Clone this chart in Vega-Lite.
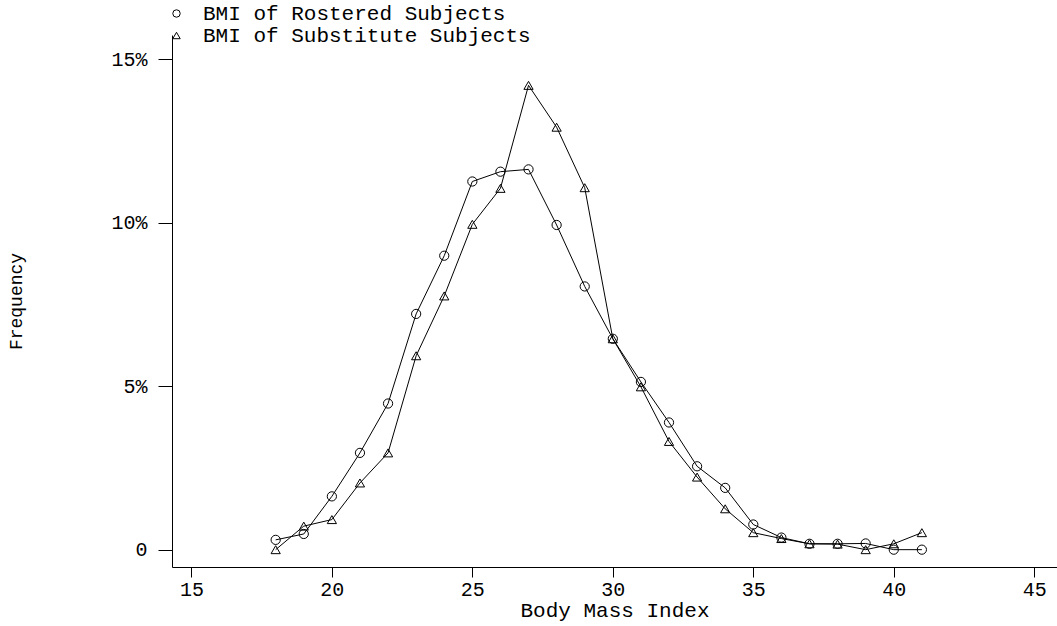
{
  "$schema": "https://vega.github.io/schema/vega-lite/v6.json",
  "width": 885,
  "height": 532,
  "autosize": {"type": "none"},
  "padding": {"left": 172, "top": 35, "right": 0, "bottom": 59},
  "background": "white",
  "config": {"view": {"stroke": null}, "font": "Liberation Mono"},
  "data": {"values": [
    {"bmi": 18, "freq": 0.30, "series": "BMI of Rostered Subjects"},
    {"bmi": 19, "freq": 0.48, "series": "BMI of Rostered Subjects"},
    {"bmi": 20, "freq": 1.63, "series": "BMI of Rostered Subjects"},
    {"bmi": 21, "freq": 2.96, "series": "BMI of Rostered Subjects"},
    {"bmi": 22, "freq": 4.47, "series": "BMI of Rostered Subjects"},
    {"bmi": 23, "freq": 7.21, "series": "BMI of Rostered Subjects"},
    {"bmi": 24, "freq": 8.99, "series": "BMI of Rostered Subjects"},
    {"bmi": 25, "freq": 11.26, "series": "BMI of Rostered Subjects"},
    {"bmi": 26, "freq": 11.56, "series": "BMI of Rostered Subjects"},
    {"bmi": 27, "freq": 11.63, "series": "BMI of Rostered Subjects"},
    {"bmi": 28, "freq": 9.93, "series": "BMI of Rostered Subjects"},
    {"bmi": 29, "freq": 8.05, "series": "BMI of Rostered Subjects"},
    {"bmi": 30, "freq": 6.45, "series": "BMI of Rostered Subjects"},
    {"bmi": 31, "freq": 5.13, "series": "BMI of Rostered Subjects"},
    {"bmi": 32, "freq": 3.89, "series": "BMI of Rostered Subjects"},
    {"bmi": 33, "freq": 2.55, "series": "BMI of Rostered Subjects"},
    {"bmi": 34, "freq": 1.89, "series": "BMI of Rostered Subjects"},
    {"bmi": 35, "freq": 0.77, "series": "BMI of Rostered Subjects"},
    {"bmi": 36, "freq": 0.37, "series": "BMI of Rostered Subjects"},
    {"bmi": 37, "freq": 0.18, "series": "BMI of Rostered Subjects"},
    {"bmi": 38, "freq": 0.18, "series": "BMI of Rostered Subjects"},
    {"bmi": 39, "freq": 0.19, "series": "BMI of Rostered Subjects"},
    {"bmi": 40, "freq": 0.0, "series": "BMI of Rostered Subjects"},
    {"bmi": 41, "freq": 0.0, "series": "BMI of Rostered Subjects"},
    {"bmi": 18, "freq": 0.0, "series": "BMI of Substitute Subjects"},
    {"bmi": 19, "freq": 0.72, "series": "BMI of Substitute Subjects"},
    {"bmi": 20, "freq": 0.92, "series": "BMI of Substitute Subjects"},
    {"bmi": 21, "freq": 2.04, "series": "BMI of Substitute Subjects"},
    {"bmi": 22, "freq": 2.96, "series": "BMI of Substitute Subjects"},
    {"bmi": 23, "freq": 5.93, "series": "BMI of Substitute Subjects"},
    {"bmi": 24, "freq": 7.76, "series": "BMI of Substitute Subjects"},
    {"bmi": 25, "freq": 9.95, "series": "BMI of Substitute Subjects"},
    {"bmi": 26, "freq": 11.05, "series": "BMI of Substitute Subjects"},
    {"bmi": 27, "freq": 14.2, "series": "BMI of Substitute Subjects"},
    {"bmi": 28, "freq": 12.92, "series": "BMI of Substitute Subjects"},
    {"bmi": 29, "freq": 11.07, "series": "BMI of Substitute Subjects"},
    {"bmi": 30, "freq": 6.45, "series": "BMI of Substitute Subjects"},
    {"bmi": 31, "freq": 4.98, "series": "BMI of Substitute Subjects"},
    {"bmi": 32, "freq": 3.31, "series": "BMI of Substitute Subjects"},
    {"bmi": 33, "freq": 2.22, "series": "BMI of Substitute Subjects"},
    {"bmi": 34, "freq": 1.25, "series": "BMI of Substitute Subjects"},
    {"bmi": 35, "freq": 0.52, "series": "BMI of Substitute Subjects"},
    {"bmi": 36, "freq": 0.34, "series": "BMI of Substitute Subjects"},
    {"bmi": 37, "freq": 0.18, "series": "BMI of Substitute Subjects"},
    {"bmi": 38, "freq": 0.17, "series": "BMI of Substitute Subjects"},
    {"bmi": 39, "freq": 0.0, "series": "BMI of Substitute Subjects"},
    {"bmi": 40, "freq": 0.18, "series": "BMI of Substitute Subjects"},
    {"bmi": 41, "freq": 0.52, "series": "BMI of Substitute Subjects"}
  ]},
  "encoding": {
    "x": {
      "field": "bmi", "type": "quantitative",
      "scale": {"domain": [14.31, 45.81], "nice": false, "zero": false},
      "axis": {
        "values": [15, 20, 25, 30, 35, 40, 45],
        "title": "Body Mass Index",
        "grid": false,
        "domainColor": "black", "domainWidth": 1,
        "tickColor": "black", "tickWidth": 1, "tickSize": 10,
        "labelPadding": 2, "labelFontSize": 20, "labelColor": "black", "labelFont": "Liberation Mono",
        "labelFlush": false, "labelOverlap": false,
        "titleFontSize": 21, "titleFontWeight": "normal", "titleColor": "black", "titleFont": "Liberation Mono",
        "titlePadding": 0
      }
    },
    "y": {
      "field": "freq", "type": "quantitative",
      "scale": {"domain": [-0.53, 15.74], "nice": false, "zero": false},
      "axis": {
        "values": [0, 5, 10, 15],
        "labelExpr": "datum.value == 0 ? '0' : datum.value + '%'",
        "title": "Frequency",
        "grid": false,
        "domainColor": "black", "domainWidth": 1,
        "tickColor": "black", "tickWidth": 1, "tickSize": 14,
        "labelPadding": 11, "labelFontSize": 20, "labelColor": "black", "labelFont": "Liberation Mono",
        "labelFlush": false, "labelOverlap": false,
        "titleFontSize": 18, "titleFontWeight": "normal", "titleColor": "black", "titleFont": "Liberation Mono",
        "titleX": -156, "titleY": 266, "titleAngle": -90, "titleAlign": "center", "titleBaseline": "middle"
      }
    }
  },
  "layer": [
    {
      "mark": {"type": "line", "color": "black", "strokeWidth": 1},
      "encoding": {"detail": {"field": "series"}}
    },
    {
      "mark": {"type": "point", "filled": false, "color": "black", "strokeWidth": 1, "opacity": 1, "size": 85},
      "encoding": {
        "shape": {
          "field": "series", "type": "nominal",
          "scale": {"domain": ["BMI of Rostered Subjects", "BMI of Substitute Subjects"], "range": ["circle", "triangle-up"]},
          "legend": {
            "orient": "none", "legendX": -6, "legendY": -32,
            "title": null, "padding": 0, "rowPadding": 0,
            "labelFontSize": 21, "labelFont": "Liberation Mono", "labelColor": "black", "labelLimit": 0,
            "labelOffset": 16, "symbolSize": 55,
            "symbolStrokeColor": "black", "symbolFillColor": "transparent", "symbolStrokeWidth": 1
          }
        }
      }
    }
  ]
}
